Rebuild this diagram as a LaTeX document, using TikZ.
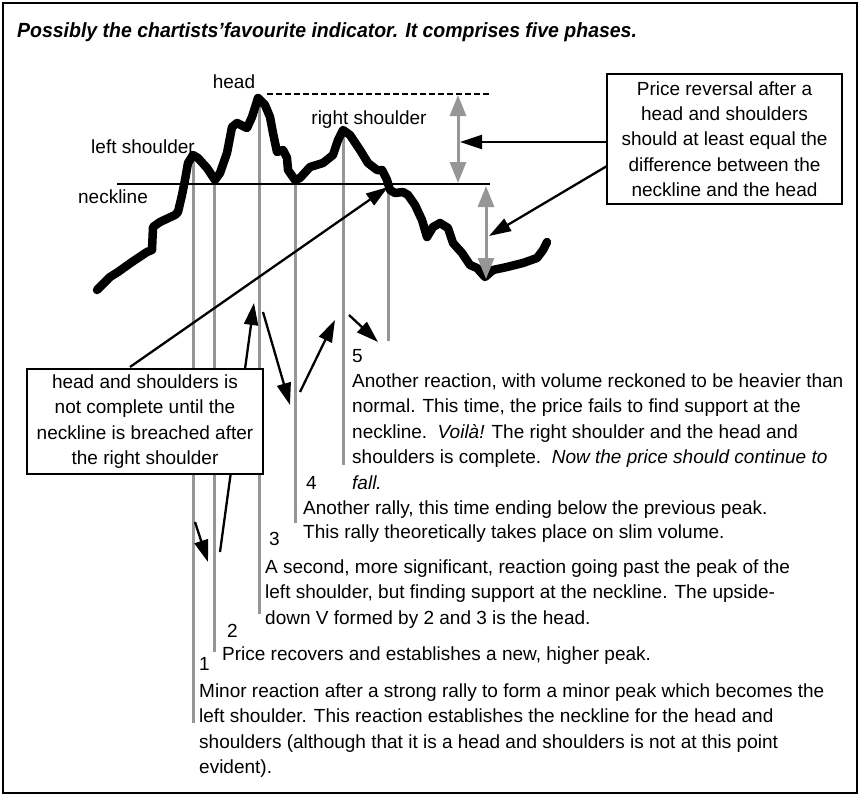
\documentclass[tikz,border=0pt]{standalone}
\usepackage{fontspec}
\setmainfont{Liberation Sans}
\newfontfamily\titlefont[FakeStretch=0.95]{Liberation Sans}
\usetikzlibrary{arrows.meta}
\definecolor{vgray}{RGB}{150,150,150}
\begin{document}
\begin{tikzpicture}[x=1pt,y=-1pt,
  txt/.style={font=\fontsize{19}{25.5}\selectfont, inner sep=0pt},
  para/.style={txt, anchor=north west, align=left},
  num/.style={txt, anchor=base west},
  lbl/.style={txt, anchor=center},
  box/.style={draw=black, line width=1.4pt, fill=white, inner sep=0pt, align=center,
    font=\fontsize{19}{25.3}\selectfont},
  marker/.style={draw=vgray, line width=3pt},
  garrow/.style={draw=vgray, line width=3pt, {Triangle[length=21pt,width=16pt]}-{Triangle[length=21pt,width=16pt]}},
  barrow/.style={draw=black, line width=2.3pt, -{Triangle[length=22pt,width=14pt]}},
  price/.style={draw=black, line width=8.5pt, line join=round, line cap=round}
]
\useasboundingbox (0,0) rectangle (860,795);
\draw[line width=1.5pt] (3,3) rectangle (857,793);

\node[anchor=base west, inner sep=0pt, font=\titlefont\bfseries\itshape\fontsize{20.5}{24}\selectfont] (title) at (17,37) {Possibly the chartists’favourite indicator. It comprises five phases.};

% marker coordinates
\coordinate (m1t) at (193,155); \coordinate (m1b) at (193,723);
\coordinate (m2t) at (214,182); \coordinate (m2b) at (214,652);
\coordinate (m3t) at (259,98);  \coordinate (m3b) at (259,614);
\coordinate (m4t) at (295,181); \coordinate (m4b) at (295,523);
\coordinate (m5t) at (343,130); \coordinate (m5b) at (343,465);
\coordinate (m6t) at (388,184); \coordinate (m6b) at (388,341);
\draw[marker] (m1t) -- (m1b);
\draw[marker] (m2t) -- (m2b);
\draw[marker] (m3t) -- (m3b);
\draw[marker] (m4t) -- (m4b);
\draw[marker] (m5t) -- (m5b);
\draw[marker] (m6t) -- (m6b);

% neckline and head level
\coordinate (nl1) at (117,184); \coordinate (nl2) at (490,184);
\draw[line width=2.6pt] (nl1) -- (nl2);
\coordinate (hd1) at (267,94); \coordinate (hd2) at (490,94);
\draw[line width=1.8pt, dash pattern=on 6pt off 3pt] (hd1) -- (hd2);

% price curve
\draw[price] (97,290) -- (110,277) -- (118,272) -- (132,262) -- (147,252) -- (152,250)
 -- (153,227) -- (160,222) -- (175,215) -- (178,212) -- (182,195) -- (185,180) -- (188,163)
 -- (193,155) -- (198,158) -- (207,168) -- (215,180) -- (220,173) -- (227,153) -- (232,127)
 -- (237,123) -- (247,128) -- (252,117) -- (258,98) -- (265,105) -- (270,117) -- (273,133)
 -- (277,152) -- (283,150) -- (287,158) -- (288,170) -- (295,180) -- (300,178) -- (310,167)
 -- (323,163) -- (333,155) -- (338,140) -- (343,130) -- (350,135) -- (360,150) -- (368,163)
 -- (377,170) -- (382,170) -- (387,180) -- (390,190) -- (395,193) -- (403,192) -- (408,195)
 -- (415,205) -- (422,220) -- (427,237) -- (433,227) -- (440,223) -- (448,228) -- (453,243)
 -- (462,253) -- (470,265) -- (477,268) -- (485,277) -- (493,270) -- (507,267) -- (523,263)
 -- (537,258) -- (543,250) -- (547,242);

% gray measuring arrows
\coordinate (g1t) at (458,95); \coordinate (g1b) at (458,183);
\coordinate (g2t) at (486,186); \coordinate (g2b) at (486,279);
\draw[garrow] (g1t) -- (g1b);
\draw[garrow] (g2t) -- (g2b);

% labels
\node[lbl] (lhead) at (234,82) {head};
\node[lbl] (lls) at (143,147) {left shoulder};
\node[lbl] (lnl) at (113,197) {neckline};
\node[lbl] (lrs) at (369,120) {right shoulder};

% black arrows (behind left box)
\coordinate (d1s) at (130,367); \coordinate (d1e) at (388,187);
\draw[barrow] (d1s) -- (d1e);
\coordinate (a2s) at (220,552); \coordinate (a2e) at (254,303);
\draw[barrow] (a2s) -- (a2e);
\coordinate (a1s) at (195,522); \coordinate (a1e) at (208,562);
\draw[barrow] (a1s) -- (a1e);
\coordinate (a3s) at (263,312); \coordinate (a3e) at (290,405);
\draw[barrow] (a3s) -- (a3e);
\coordinate (a4s) at (300,392); \coordinate (a4e) at (335,320);
\draw[barrow] (a4s) -- (a4e);
\coordinate (a5s) at (349,315); \coordinate (a5e) at (378,342);
\draw[barrow] (a5s) -- (a5e);

% boxes
\node[box, minimum width=236pt, minimum height=105pt] (lbox) at (145,421.5)
 {head and shoulders is\\not complete until the\\neckline is breached after\\the right shoulder};
\node[box, minimum width=235pt, minimum height=130pt] (rbox) at (724.5,139)
 {Price reversal after a\\head and shoulders\\should at least equal the\\difference between the\\neckline and the head};

\coordinate (r1s) at (607,142); \coordinate (r1e) at (460,142);
\coordinate (r2s) at (607,166); \coordinate (r2e) at (489,236);
\draw[barrow] (r1s) -- (r1e);
\draw[barrow] (r2s) -- (r2e);

% numbers and paragraphs
\node[num] (n5) at (352,362) {5};
\node[para] (p5) at (352,369.15) {\strut Another reaction, with volume reckoned to be heavier than\\
normal. This time, the price fails to find support at the\\
neckline.\ \ \textit{Voilà!} The right shoulder and the head and\\
shoulders is complete.\ \ \textit{Now the price should continue to}\\
\textit{fall.}};
\node[num] (n4) at (306,489) {4};
\node[para, font=\fontsize{19}{24}\selectfont] (p4) at (303,497.2) {\strut Another rally, this time ending below the previous peak.\\
This rally theoretically takes place on slim volume.};
\node[num] (n3) at (269,545) {3};
\node[para] (p3) at (265,555.15) {\strut A second, more significant, reaction going past the peak of the\\
left shoulder, but finding support at the neckline. The upside-\\
down V formed by 2 and 3 is the head.};
\node[num] (n2) at (227,637) {2};
\node[para] (p2) at (222,642.15) {\strut Price recovers and establishes a new, higher peak.};
\node[num] (n1) at (199,670) {1};
\node[para] (p1) at (199,679.15) {\strut Minor reaction after a strong rally to form a minor peak which becomes the\\
left shoulder. This reaction establishes the neckline for the head and\\
shoulders (although that it is a head and shoulders is not at this point\\
evident).};
\end{tikzpicture}
\end{document}
